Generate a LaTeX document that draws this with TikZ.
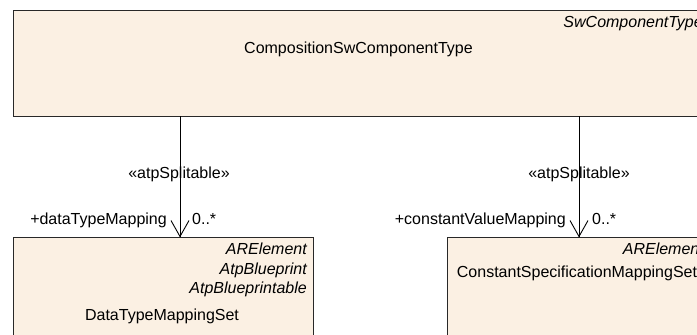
\documentclass[tikz,border=0pt]{standalone}
\usepackage{fontspec}
\setmainfont{Liberation Sans}
\usetikzlibrary{calc}
\definecolor{boxfill}{RGB}{251,240,227}
\definecolor{boxline}{RGB}{40,40,40}
\tikzset{
  umlbox/.style={draw=boxline, fill=boxfill, line width=1.1pt, rectangle, inner sep=0pt, anchor=north west},
  lbl/.style={inner sep=0pt, font=\fontsize{16}{19}\selectfont},
  ilbl/.style={lbl, font=\fontsize{16}{19}\selectfont\itshape},
  assoc/.style={draw=black, line width=0.9pt},
  vhead/.style={draw=black, line width=0.9pt, line join=miter}
}
\begin{document}
\begin{tikzpicture}[x=1pt,y=-1pt]
\useasboundingbox (0,0) rectangle (697,335);
\clip (0,0) rectangle (697,335);
% boxes
\node[umlbox, minimum width=697.5pt, minimum height=106pt] (comp) at (12.5,10) {};
\node[umlbox, minimum width=300pt, minimum height=120pt] (dtm) at (13,237) {};
\node[umlbox, minimum width=263pt, minimum height=120pt] (csm) at (447,237) {};
% top box texts
\node[ilbl, anchor=base east] (compst) at (703,27) {SwComponentType};
\node[lbl, anchor=base] (compname) at (358.5,53) {CompositionSwComponentType};
% left box texts
\node[ilbl, anchor=base east] (dtmst1) at (307,254) {ARElement};
\node[ilbl, anchor=base east] (dtmst2) at (307,274) {AtpBlueprint};
\node[ilbl, anchor=base east] (dtmst3) at (307,293) {AtpBlueprintable};
\node[lbl, anchor=base] (dtmname) at (162,320) {DataTypeMappingSet};
% right box texts
\node[ilbl, anchor=base east] (csmst) at (704,254) {ARElement};
\node[lbl, anchor=base] (csmname) at (577,277) {ConstantSpecificationMappingSet};
% connectors
\coordinate (s1) at (180,116);
\coordinate (e1) at (180,236.5);
\coordinate (s2) at (579,116);
\coordinate (e2) at (579,236.5);
\draw[assoc] (s1) -- (e1);
\draw[assoc] (s2) -- (e2);
\draw[vhead] ($(e1)+(-9,-16)$) -- (e1) -- ($(e1)+(9,-16)$);
\draw[vhead] ($(e2)+(-9,-16)$) -- (e2) -- ($(e2)+(9,-16)$);
% connector labels
\node[lbl, anchor=base] (st1) at (179,178) {«atpSplitable»};
\node[lbl, anchor=base east] (r1) at (167,224) {+dataTypeMapping};
\node[lbl, anchor=base west] (m1) at (192,224) {0..*};
\node[lbl, anchor=base] (st2) at (579,178) {«atpSplitable»};
\node[lbl, anchor=base east] (r2) at (566,224) {+constantValueMapping};
\node[lbl, anchor=base west] (m2) at (592,224) {0..*};
\end{tikzpicture}
\end{document}
